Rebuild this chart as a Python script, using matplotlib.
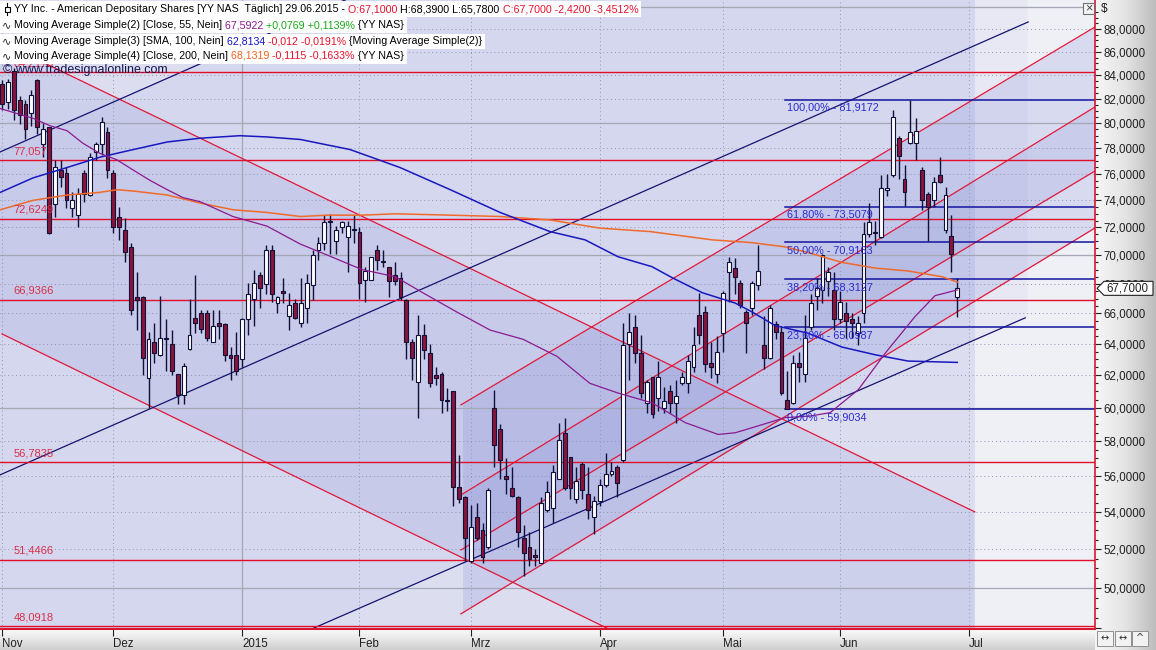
import numpy as np
import matplotlib
matplotlib.use("Agg")
import matplotlib.pyplot as plt
from matplotlib.patches import Rectangle, Polygon
from matplotlib.lines import Line2D
from matplotlib.colors import LinearSegmentedColormap
from matplotlib.ticker import FixedLocator, FixedFormatter, NullFormatter

plt.rcParams['font.family'] = ['Liberation Sans', 'DejaVu Sans']

W, H = 1156, 650

# ===== data (bar index 0 = 03.11.2014, one per trading day) =====
month_labels = ['Nov', 'Dez', '2015', 'Feb', 'Mrz', 'Apr', 'Mai', 'Jun', 'Jul']
month_starts = [0, 19, 41, 61, 80, 102, 123, 143, 165]

opens = [83.2, 81.7, 84.3, 81.9, 81.6, 80.8, 83.6, 78.3, 79.7, 73.7,
         76.3, 76.1, 73.4, 72.9, 76.1, 74.4, 77.7, 78.3, 79.3, 76.1,
         72.8, 71.8, 70.6, 67.1, 67.1, 61.8, 64.1, 63.3, 64.4, 64.0,
         62.1, 60.8, 63.7, 65.7, 66.0, 66.0, 64.1, 65.4, 65.3, 63.3,
         63.3, 63.0, 65.6, 67.0, 68.6, 68.0, 70.4, 66.7, 67.5, 65.8,
         66.7, 65.4, 66.4, 67.9, 70.4, 70.9, 72.5, 71.0, 72.0, 71.3,
         71.9, 71.7, 68.3, 68.3, 70.4, 69.6, 69.2, 68.6, 68.4, 66.9,
         64.1, 61.6, 64.6, 63.4, 62.0, 62.1, 60.5, 61.0, 55.4, 54.8,
         51.4, 53.7, 53.0, 52.1, 60.0, 58.7, 56.0, 55.3, 54.8, 52.6,
         52.1, 51.7, 51.3, 54.1, 54.2, 55.8, 58.5, 57.1, 54.7, 56.7,
         55.0, 53.7, 54.6, 55.5, 56.1, 56.5, 56.9, 64.0, 65.1, 63.4,
         60.3, 61.9, 60.6, 60.0, 61.0, 60.3, 61.5, 61.5, 62.5, 65.9,
         66.1, 62.8, 62.1, 64.7, 68.8, 69.1, 68.1, 66.1, 66.4, 67.9,
         63.9, 63.1, 65.3, 64.8, 60.5, 60.3, 62.8, 62.1, 65.1, 67.2,
         67.6, 68.2, 67.6, 65.6, 66.0, 65.6, 64.7, 66.0, 71.5, 71.7,
         71.3, 74.8, 75.9, 78.8, 75.6, 78.4, 78.4, 76.3, 74.5, 74.0,
         75.9, 71.8, 71.4, 67.10]
highs = [83.6, 83.7, 84.6, 82.2, 81.9, 82.7, 83.7, 80.0, 79.7, 77.1,
         77.1, 76.5, 74.6, 74.9, 76.3, 77.6, 78.5, 80.5, 79.7, 76.3,
         73.5, 72.7, 70.9, 68.8, 67.2, 64.8, 65.4, 67.2, 65.6, 64.9,
         62.1, 62.8, 67.0, 68.6, 66.2, 66.2, 66.2, 66.2, 65.4, 63.8,
         64.8, 65.7, 68.1, 69.0, 68.8, 70.7, 70.7, 67.2, 68.4, 67.4,
         67.0, 68.4, 68.7, 70.4, 71.3, 72.9, 73.0, 72.1, 72.5, 72.5,
         72.9, 72.0, 69.2, 69.9, 70.7, 70.4, 69.2, 69.5, 68.8, 67.0,
         64.3, 65.9, 65.3, 64.0, 62.5, 62.2, 61.2, 61.0, 57.2, 54.9,
         54.4, 54.5, 53.4, 55.3, 61.1, 59.0, 57.0, 56.5, 54.9, 53.3,
         52.9, 52.0, 54.8, 55.7, 56.6, 59.1, 59.4, 57.1, 56.5, 56.8,
         56.5, 54.9, 55.8, 57.3, 56.8, 56.6, 65.4, 66.0, 65.9, 64.6,
         61.7, 61.9, 62.9, 61.3, 61.4, 61.7, 62.2, 63.3, 65.1, 67.4,
         66.5, 64.1, 64.5, 67.5, 69.9, 69.8, 68.3, 66.2, 68.2, 70.7,
         65.8, 66.6, 65.5, 65.2, 62.3, 63.3, 63.5, 65.9, 67.3, 68.4,
         70.1, 69.2, 68.8, 67.5, 66.8, 66.0, 65.8, 72.4, 73.8, 72.5,
         75.9, 76.0, 81.1, 79.0, 76.7, 81.92, 80.4, 76.5, 74.6, 75.8,
         77.3, 75.0, 72.9, 68.39]
lows = [81.1, 81.2, 80.3, 79.9, 78.7, 79.8, 79.1, 77.3, 71.5, 72.8,
        75.0, 73.4, 72.8, 72.0, 73.9, 74.3, 77.1, 77.5, 75.7, 71.6,
        71.1, 69.5, 65.9, 64.9, 62.0, 60.0, 62.8, 63.2, 62.3, 62.0,
        60.2, 60.2, 63.6, 64.7, 64.7, 64.2, 64.1, 64.3, 62.9, 61.7,
        62.0, 62.5, 64.6, 65.2, 66.4, 67.3, 66.8, 66.0, 66.7, 64.9,
        65.6, 65.1, 65.4, 66.9, 69.7, 70.4, 70.1, 70.1, 71.6, 68.8,
        70.9, 67.0, 66.8, 68.3, 69.0, 69.2, 67.1, 67.9, 66.9, 63.0,
        61.7, 59.4, 63.0, 61.3, 61.4, 59.7, 59.8, 54.3, 54.5, 51.4,
        51.3, 52.5, 51.3, 52.0, 56.5, 55.8, 55.0, 54.8, 52.1, 50.6,
        51.1, 51.1, 51.3, 54.0, 53.4, 55.8, 55.2, 54.7, 54.5, 54.7,
        53.6, 52.8, 54.3, 55.4, 56.0, 54.8, 56.8, 61.7, 62.8, 60.6,
        59.7, 59.4, 59.8, 59.7, 59.7, 59.1, 61.4, 60.9, 62.2, 64.0,
        62.2, 61.8, 61.5, 63.5, 66.8, 67.3, 66.4, 63.4, 65.9, 67.6,
        62.4, 63.0, 64.3, 60.8, 59.90, 60.2, 61.6, 61.6, 64.9, 66.2,
        66.7, 67.2, 64.9, 65.4, 64.4, 64.4, 63.9, 65.4, 71.3, 70.7,
        71.2, 74.3, 75.8, 75.6, 73.6, 78.3, 77.1, 73.3, 71.0, 73.5,
        75.3, 71.6, 68.8, 65.78]
closes = [81.6, 83.4, 81.1, 80.7, 79.5, 82.3, 79.7, 79.5, 71.6, 76.5,
          75.8, 74.0, 74.0, 74.5, 74.5, 77.3, 78.3, 80.1, 76.3, 72.0,
          72.0, 70.2, 66.2, 66.9, 63.1, 64.3, 63.4, 64.4, 64.3, 62.3,
          60.8, 62.6, 64.6, 65.4, 65.0, 64.4, 65.2, 65.2, 63.3, 63.1,
          62.3, 65.6, 67.3, 68.1, 67.7, 70.4, 67.3, 67.1, 67.4, 66.6,
          65.7, 66.7, 68.1, 70.0, 70.9, 72.4, 72.4, 71.8, 72.4, 72.1,
          71.8, 68.1, 68.9, 69.9, 69.7, 69.5, 68.2, 68.2, 67.1, 64.1,
          63.1, 64.6, 63.6, 61.5, 61.8, 60.5, 60.4, 55.4, 54.7, 52.6,
          53.2, 52.6, 51.6, 55.2, 57.8, 56.9, 55.8, 54.9, 52.9, 51.8,
          51.5, 51.6, 54.5, 55.1, 56.2, 58.1, 55.3, 55.3, 55.7, 55.2,
          54.1, 54.6, 55.5, 56.1, 56.3, 55.6, 63.9, 64.8, 63.4, 60.9,
          61.6, 59.6, 61.9, 60.4, 60.3, 60.7, 61.9, 62.9, 63.9, 64.6,
          62.7, 62.5, 63.5, 67.4, 69.5, 68.5, 66.6, 65.4, 68.1, 68.9,
          63.1, 66.4, 64.8, 60.9, 59.9, 62.8, 62.5, 64.4, 66.7, 67.7,
          70.0, 68.8, 65.6, 66.8, 65.5, 65.4, 65.4, 71.5, 72.4, 71.6,
          74.9, 74.9, 80.5, 77.4, 74.6, 79.3, 79.4, 74.0, 73.5, 75.4,
          75.4, 74.4, 70.12, 67.70]

# moving averages, sampled along the drawn curves (bar index, price)
ma55_x = [-0.3, 5.3, 8.2, 11.1, 13.8, 16.7, 19.6, 22.4, 25.3, 28.2, 30.9, 33.8, 39.4,
          45.2, 50.9, 55.6, 61.4, 67.1, 71.8, 77.6, 83.3, 88.9, 94.7, 100.3, 105.1,
          110.9, 116.6, 122.2, 125.1, 128.0, 133.6, 137.9, 141.3, 146.1, 150.7, 155.8,
          159.2, 163]
ma55_y = [81.2, 80.4, 79.8, 79.4, 78.4, 77.6, 77.1, 76.3, 75.5, 74.8, 74.2, 73.9, 72.8,
          72.1, 70.8, 70.0, 69.0, 68.5, 67.4, 66.1, 64.9, 64.3, 63.2, 61.5, 60.9,
          60.3, 59.1, 58.4, 58.5, 58.8, 59.4, 59.5, 59.7, 61.1, 63.4, 65.8,
          67.2, 67.5922]
ma100_x = [-0.3, 5.3, 11.1, 16.7, 22.4, 28.2, 33.8, 40.6, 45.2, 50.9, 59.4, 67.9, 76.5,
           85.0, 93.5, 99.5, 105.1, 110.9, 114.5, 119.5, 125.1, 128.0, 131.9, 137.5,
           143.3, 149.0, 154.6, 163]
ma100_y = [74.6, 75.7, 76.5, 77.3, 77.9, 78.5, 78.8, 79.0, 78.9, 78.7, 77.9, 76.5, 74.8,
           73.1, 71.7, 71.1, 69.9, 69.2, 68.4, 67.4, 66.7, 66.1, 65.2, 64.7,
           63.8, 63.3, 62.9, 62.8134]
ma200_x = [-0.3, 5.3, 11.1, 16.7, 19.6, 22.4, 28.2, 33.8, 39.4, 45.2, 50.9, 55.6, 61.4,
           67.1, 76.5, 85.0, 93.5, 102.0, 110.6, 121.2, 128.0, 133.6, 137.5, 143.3,
           149.0, 154.6, 160.4, 163]
ma200_y = [73.3, 74.0, 74.4, 74.6, 74.8, 74.7, 74.4, 73.8, 73.3, 73.1, 72.8, 72.9, 72.9,
           73.0, 72.9, 72.8, 72.55, 71.95, 71.7, 71.1, 70.9, 70.6, 70.2, 69.5,
           69.1, 68.9, 68.5, 68.1319]

# horizontal support / resistance lines
hlines = [84.2173, 77.057, 72.6249, 66.9366, 56.7835, 51.4466, 48.0918]
hline_labels = ['84,2173', '77,057', '72,6249', '66,9366', '56,7835', '51,4466', '48,0918']

# fibonacci retracement (drawn from 59,9034 low to 81,9172 high)
fib_levels = [81.9172, 73.5079, 70.9163, 68.3127, 65.0987, 59.9034]
fib_labels = ['100,00% - 81,9172', '61,80% - 73,5079', '50,00% - 70,9163',
              '38,20% - 68,3127', '23,60% - 65,0987', '0,00% - 59,9034']
fib_start = 133.6

# trend lines: (bar index, price) end points
desc_upper = [(0, 86.8), (166.0, 54.0)]
desc_lower = [(0, 64.65), (106.0, 47.63)]
asc_a = [(78.3, 60.17), (186.5, 88.18)]
asc_b = [(78.3, 54.93), (186.5, 81.33)]
asc_c = [(78.3, 51.96), (186.5, 76.23)]
asc_d = [(78.3, 48.71), (186.5, 71.96)]
blue_top = [(-0.34, 77.71), (62.4, 91.54)]
blue_mid = [(-0.34, 56.06), (175.1, 88.63)]
blue_low = [(50.9, 47.73), (174.6, 65.71)]

header_rows = [
    [("YY Inc. - American Depositary Shares [YY NAS  T\u00e4glich] 29.06.2015 -", 'k'),
     (" O:67,1000", '#e8102a'), (" H:68,3900 L:65,7800", 'k'),
     (" C:67,7000 -2,4200 -3,4512%", '#e8102a')],
    [("Moving Average Simple(2) [Close, 55, Nein]", 'k'), (" 67,5922", '#8a1a90'),
     (" +0,0769 +0,1139%", '#1aa81a'), (" {YY NAS}", 'k')],
    [("Moving Average Simple(3) [SMA, 100, Nein]", 'k'), (" 62,8134", '#1414c8'),
     (" -0,012 -0,0191%", '#e8102a'), (" {Moving Average Simple(2)}", 'k')],
    [("Moving Average Simple(4) [Close, 200, Nein]", 'k'), (" 68,1319", '#f06020'),
     (" -0,1115 -0,1633%", '#e8102a'), (" {YY NAS}", 'k')],
]
last_close = 67.70


def fx(px):
    return px / W


def fy(py):
    return 1 - py / H


def trend(p0, p1, xs):
    (x0, y0), (x1, y1) = p0, p1
    k = (np.log(y1) - np.log(y0)) / (x1 - x0)
    return np.exp(np.log(y0) + k * (np.asarray(xs) - x0))


fig = plt.figure(figsize=(W / 100, H / 100), dpi=100)
fig.patch.set_facecolor('#f0f0f0')

# gray gradient strips for the price axis and the time axis
g_right = fig.add_axes([fx(1095), 0, fx(61), 1], zorder=-2)
g_right.imshow(np.linspace(0, 1, 64).reshape(1, -1), aspect='auto',
               cmap=LinearSegmentedColormap.from_list('r', ['#f6f6f6', '#e4e4e4', '#bdbdbd']),
               extent=[0, 1, 0, 1])
g_right.axis('off')
g_bot = fig.add_axes([0, 0, fx(1095), 21 / H], zorder=-2)
g_bot.imshow(np.linspace(0, 1, 32).reshape(-1, 1), aspect='auto',
             cmap=LinearSegmentedColormap.from_list('b', ['#fbfbfb', '#e6e6e6', '#cfcfcf']),
             extent=[0, 1, 0, 1])
g_bot.axis('off')

ax = fig.add_axes([0, 21 / H, fx(1095), 629 / H])
ax.set_yscale('log')
ax.set_xlim(-0.34, 186.5)
ax.set_ylim(47.97, 90.62)
ax.set_facecolor('#eff0f6')

lav = '#7f87d6'
xs = np.linspace(-0.34, 186.5, 600)

# shaded drawing objects
ax.axvspan(-0.34, 166.0, color=lav, alpha=0.17, lw=0, zorder=0.1)
m = xs <= 166.0
ax.fill_between(xs[m], np.clip(trend(*desc_lower, xs[m]), 40, 100),
                np.clip(trend(*desc_upper, xs[m]), 40, 100), color=lav, alpha=0.16, lw=0, zorder=0.2)
m = xs <= 175.1
ax.fill_between(xs[m], np.clip(trend(*blue_low, xs[m]), 40, 100),
                np.clip(trend(*blue_top, xs[m]), 40, 100), color=lav, alpha=0.07, lw=0, zorder=0.3)
m = xs >= 78.3
ax.fill_between(xs[m], trend(*asc_d, xs[m]), trend(*asc_a, xs[m]),
                color=lav, alpha=0.2, lw=0, zorder=0.4)
ax.fill_between(xs[m], trend(*asc_c, xs[m]), trend(*asc_b, xs[m]),
                color=lav, alpha=0.17, lw=0, zorder=0.5)

# grid
for v in range(48, 92, 2):
    if v % 10 == 0:
        ax.axhline(v, color='#a4a7b4', lw=0.9, zorder=1)
    else:
        ax.axhline(v, color='#8e96b8', lw=0.7, ls=(0, (1, 3)), zorder=1)
for i, lab in zip(month_starts, month_labels):
    if lab == '2015':
        ax.axvline(i, color='#a4a7b4', lw=0.9, zorder=1)
    else:
        ax.axvline(i, color='#8e96b8', lw=0.7, ls=(0, (1, 3)), zorder=1)

# trend lines
for seg in [desc_upper, desc_lower, asc_a, asc_b, asc_c, asc_d]:
    ax.plot([seg[0][0], seg[1][0]], [seg[0][1], seg[1][1]], color='#e0183a', lw=0.9, zorder=2)
for seg in [blue_top, blue_mid, blue_low]:
    ax.plot([seg[0][0], seg[1][0]], [seg[0][1], seg[1][1]], color='#141470', lw=0.9, zorder=2)

# horizontal lines with labels
for v, lab in zip(hlines, hline_labels):
    ax.axhline(v, color='#e0102a', lw=1.0, zorder=2.2)
    ax.text(2.0, v * 1.004, lab, color='#d8304a', fontsize=8, va='bottom', ha='left', zorder=8)

# fibonacci levels
for v, lab in zip(fib_levels, fib_labels):
    ax.plot([fib_start, 186.5], [v, v], color='#1414a0', lw=1.1, zorder=2.4)
    ax.text(fib_start + 0.35, v * 0.997, lab, color='#2a2ad0', fontsize=7.8, va='top', ha='left', zorder=8)

# candles
o = np.array(opens)
hi = np.array(highs)
lo = np.array(lows)
c = np.array(closes)
idx = np.arange(len(o))
up = c >= o
ax.vlines(idx, lo, hi, color='#101038', lw=1.0, zorder=5)
body_lo = np.minimum(o, c)
body_h = np.maximum(np.abs(c - o), 0.06)
ax.bar(idx[up], body_h[up], bottom=body_lo[up], width=0.66, color='white',
       edgecolor='#101038', lw=0.8, zorder=6)
ax.bar(idx[~up], body_h[~up], bottom=body_lo[~up], width=0.66, color='#8a1438',
       edgecolor='#101038', lw=0.8, zorder=6)

# moving averages
ax.plot(ma200_x, ma200_y, color='#f06a2a', lw=1.1, zorder=7)
ax.plot(ma100_x, ma100_y, color='#1818c0', lw=1.1, zorder=7)
ax.plot(ma55_x, ma55_y, color='#8a1a90', lw=0.9, zorder=7)

# axes: price scale on the right, months at the bottom
for s in ['top', 'left']:
    ax.spines[s].set_visible(False)
ax.spines['right'].set_color('#d81830')
ax.spines['bottom'].set_color('#d81830')
ax.spines['right'].set_linewidth(1.2)
ax.spines['bottom'].set_linewidth(1.5)
ax.yaxis.tick_right()
yt = list(range(48, 90, 2))
ax.yaxis.set_major_locator(FixedLocator(yt))
ax.yaxis.set_major_formatter(FixedFormatter(["" if v == 48 else f"{v},0000" for v in yt]))
ax.yaxis.set_minor_locator(FixedLocator([v + d for v in range(48, 90, 2) for d in (0.5, 1.0, 1.5)]))
ax.yaxis.set_minor_formatter(NullFormatter())
ax.tick_params(axis='y', which='major', length=4, width=0.8, pad=2, labelsize=8.3, colors='#202020')
ax.tick_params(axis='y', which='minor', length=2, width=0.8, colors='#202020')
ax.set_xticks(month_starts)
ax.set_xticklabels(month_labels)
for t in ax.get_xticklabels():
    t.set_ha('left')
ax.tick_params(axis='x', length=5, width=0.8, pad=1.5, labelsize=8.3, colors='#202020')

# last price marker
yp = ax.transData.transform((0, last_close))[1]
py = H - yp
fig.add_artist(Polygon([(fx(1097), fy(py)), (fx(1104), fy(py - 7)), (fx(1153), fy(py - 7)),
                        (fx(1153), fy(py + 7)), (fx(1104), fy(py + 7))], closed=True,
                       transform=fig.transFigure, facecolor='white', edgecolor='#202020',
                       lw=0.8, zorder=20))
fig.text(fx(1106), fy(py), "67,7000", fontsize=8.3, va='center', ha='left', color='#202020', zorder=21)

fig.text(fx(1101), fy(9), "$", fontsize=8.5, va='center', ha='left', color='#202020')
fig.add_artist(Rectangle((fx(1083), fy(14)), fx(11), 11 / H, transform=fig.transFigure,
                         facecolor='#f4f4f4', edgecolor='#707070', lw=0.8, zorder=20))
fig.text(fx(1088.5), fy(8.5), "\u00d7", fontsize=9, va='center', ha='center', color='#404040', zorder=21)
for k, sym in enumerate(['\u2194', '\u2194', '^']):
    fig.add_artist(Rectangle((fx(1097 + 17.5 * k), fy(646)), fx(16), 15 / H, transform=fig.transFigure,
                             facecolor='#f2f2f2', edgecolor='#909090', lw=0.7, zorder=20))
    fig.text(fx(1105 + 17.5 * k), fy(638.5), sym, fontsize=7, va='center', ha='center',
             color='#303030', zorder=21, family=['DejaVu Sans'])

# watermark
fig.text(fx(3), fy(70), "\u00a9 www.tradesignalonline.com", fontsize=9, va='center', ha='left',
         color='#141450', zorder=15)

# header rows with white backgrounds
r = fig.canvas.get_renderer()
row_y = [9, 25, 41, 56]
for k, (pieces, yy) in enumerate(zip(header_rows, row_y)):
    x = 14
    for s, col in pieces:
        t = fig.text(fx(x), fy(yy), s, color=col, fontsize=7.7, va='center', ha='left', zorder=30)
        x += t.get_window_extent(renderer=r).width
    fig.add_artist(Rectangle((0, fy(yy + 8)), fx(x + 3), 15.5 / H, transform=fig.transFigure,
                             facecolor='white', edgecolor='none', zorder=25))
    if k == 0:
        fig.add_artist(Line2D([fx(7), fx(7)], [fy(3), fy(15)], transform=fig.transFigure,
                              color='k', lw=0.8, zorder=31))
        fig.add_artist(Rectangle((fx(4.5), fy(12)), fx(5), 5 / H, transform=fig.transFigure,
                                 facecolor='white', edgecolor='k', lw=0.8, zorder=32))
    else:
        fig.text(fx(2), fy(yy), "\u223f", fontsize=8, va='center', ha='left', color='#202020',
                 zorder=31, family=['DejaVu Sans'])

fig.savefig("out.png", dpi=100)
